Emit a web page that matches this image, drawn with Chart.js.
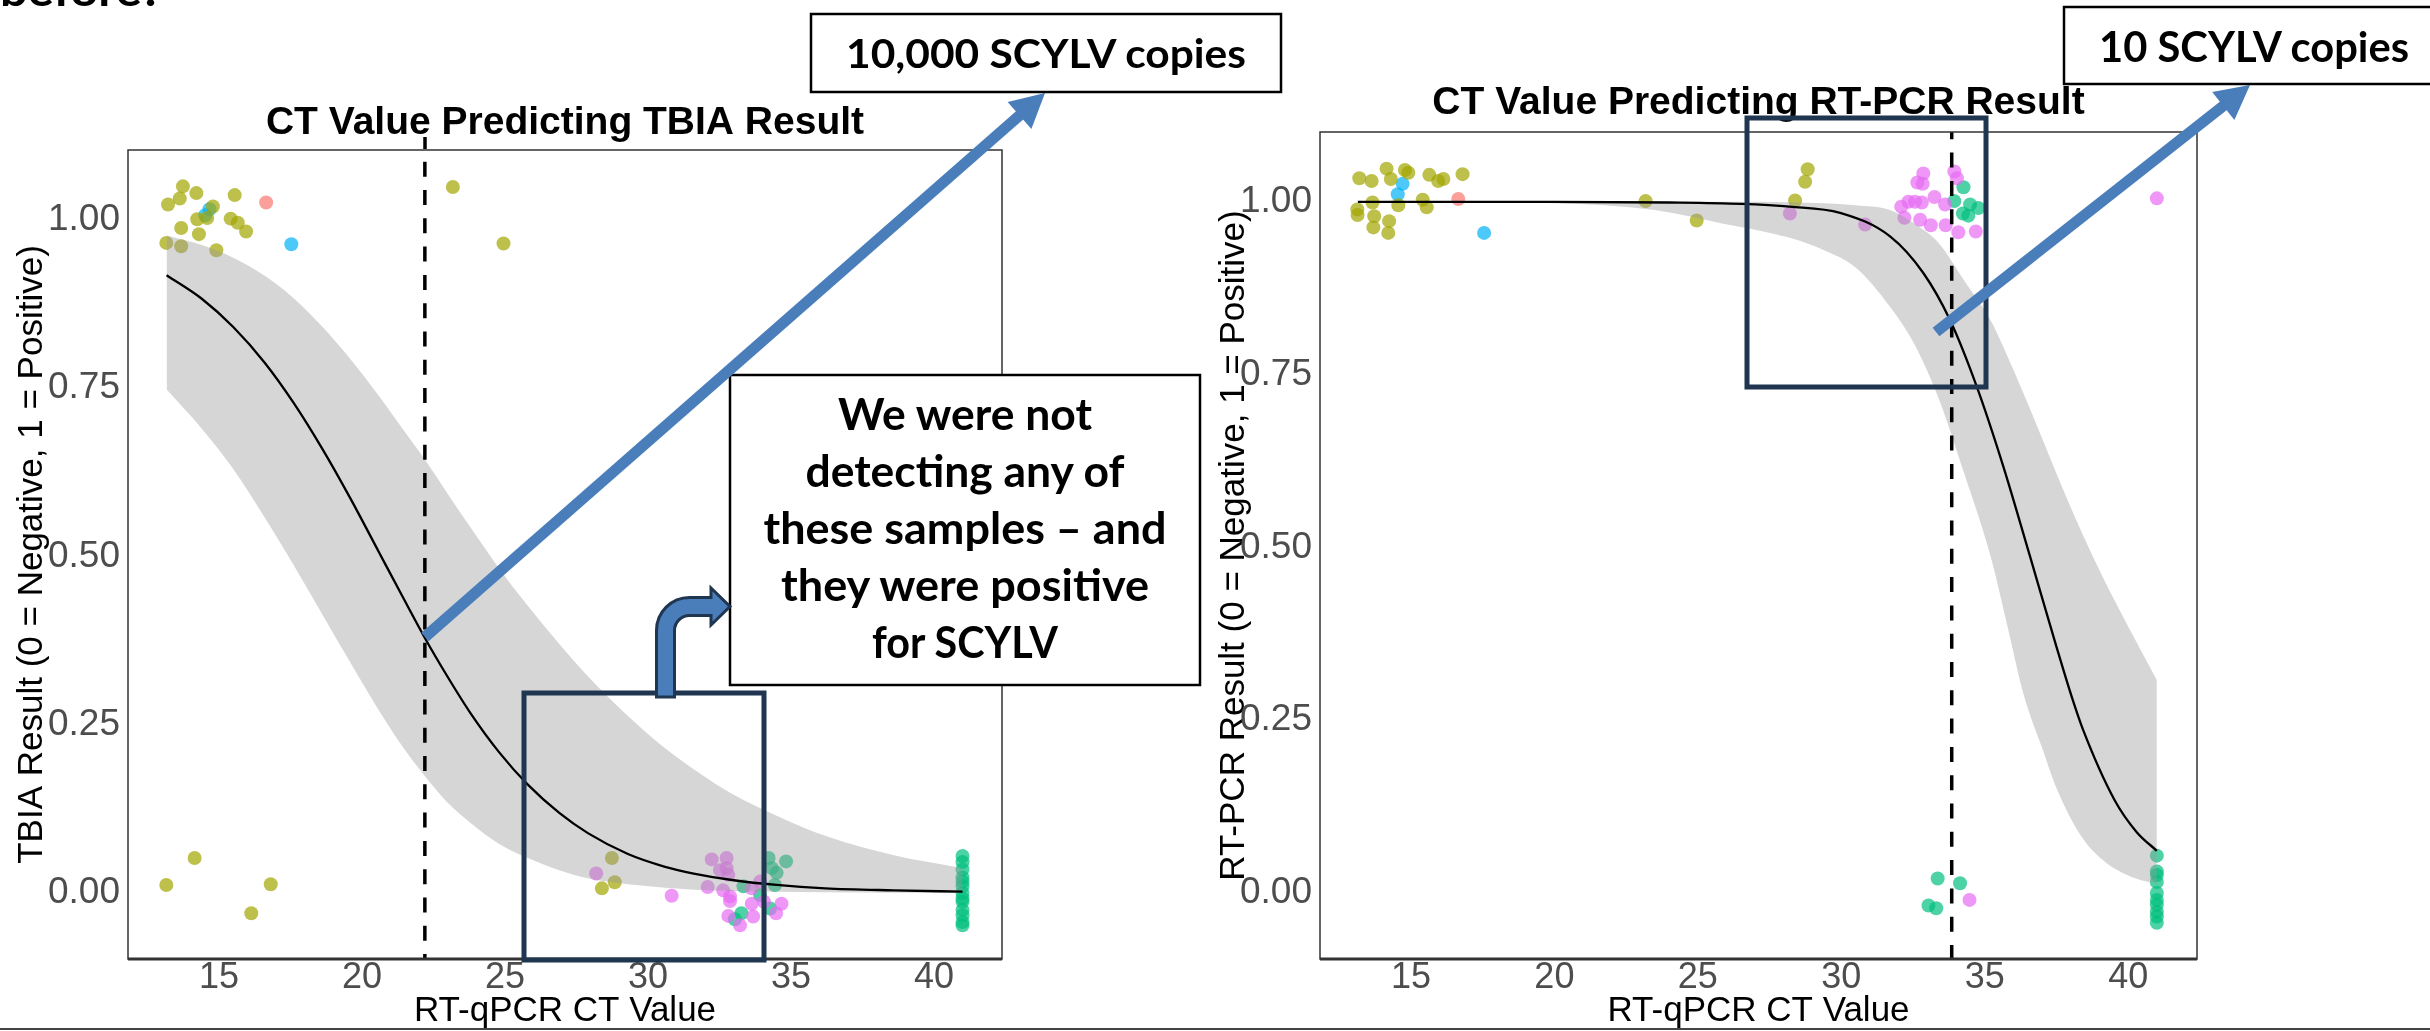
<!DOCTYPE html>
<html>
<head>
<meta charset="utf-8">
<script src="https://cdn.jsdelivr.net/npm/chart.js@4.4.1/dist/chart.umd.min.js"></script>
<style>
  html, body { margin:0; padding:0; background:#fff; }
  #page { position:relative; width:2430px; height:1031px; overflow:hidden; background:#fff; }
  .panel { position:absolute; top:0; width:1215px; height:1031px; }
  #ann { position:absolute; left:0; top:0; pointer-events:none; }
</style>
</head>
<body>
<div id="page">
  <div class="panel" style="left:0"><canvas id="tbia" width="1215" height="1031"></canvas></div>
  <div class="panel" style="left:1215px"><canvas id="pcr" width="1215" height="1031"></canvas></div>
  <svg id="ann" width="2430" height="1031" viewBox="0 0 2430 1031" xmlns="http://www.w3.org/2000/svg">
    <text x="0" y="6" font-family="Lato" font-weight="700" font-size="44" textLength="163" lengthAdjust="spacingAndGlyphs">before?</text>
    <line x1="0" y1="1029" x2="2430" y2="1029" stroke="#444" stroke-width="2"/>
    <line x1="425" y1="137" x2="425" y2="149" stroke="#000" stroke-width="3.5"/>

    <rect x="730" y="375" width="470" height="310" fill="#fff" stroke="#000" stroke-width="2.5"/>
    <g font-family="Lato" font-weight="700" font-size="43" text-anchor="middle" fill="#000">
      <text x="965" y="430" textLength="254" lengthAdjust="spacingAndGlyphs">We were not</text>
      <text x="965" y="487" textLength="319" lengthAdjust="spacingAndGlyphs">detecting any of</text>
      <text x="965" y="544" textLength="403" lengthAdjust="spacingAndGlyphs">these samples – and</text>
      <text x="965" y="601" textLength="368" lengthAdjust="spacingAndGlyphs">they were positive</text>
      <text x="965" y="658" textLength="186" lengthAdjust="spacingAndGlyphs">for SCYLV</text>
    </g>

    <rect x="524" y="693" width="240" height="267" fill="none" stroke="#1f3550" stroke-width="5"/>
    <rect x="1747" y="118" width="239" height="269" fill="none" stroke="#1f3550" stroke-width="5"/>

    <path d="M 656.5 697 L 656.5 630.5 A 33 33 0 0 1 689.5 597.5 L 711 597.5 L 711 588 L 730 606.5 L 711 625 L 711 615.5 L 689.5 615.5 A 15 15 0 0 0 674.5 630.5 L 674.5 697 Z"
          fill="#4a7ebb" stroke="#1f3550" stroke-width="3" stroke-linejoin="miter"/>

    <line x1="425" y1="637" x2="1024" y2="111.5" stroke="#4a7ebb" stroke-width="11"/>
    <polygon points="1045,93 1031.4,128.9 1007.6,101.9" fill="#4a7ebb"/>
    <line x1="1936" y1="332" x2="2227" y2="103" stroke="#4a7ebb" stroke-width="11"/>
    <polygon points="2250,85 2234.4,120.1 2212.2,91.9" fill="#4a7ebb"/>

    <rect x="811" y="14" width="470" height="78" fill="#fff" stroke="#000" stroke-width="2.5"/>
    <text x="1046" y="68" font-family="Lato" font-weight="700" font-size="40" text-anchor="middle" textLength="400" lengthAdjust="spacingAndGlyphs">10,000 SCYLV copies</text>
    <rect x="2064" y="7" width="372" height="77" fill="#fff" stroke="#000" stroke-width="2.5"/>
    <text x="2254" y="62" font-family="Lato" font-weight="700" font-size="42" text-anchor="middle" textLength="310" lengthAdjust="spacingAndGlyphs">10 SCYLV copies</text>
  </svg>
</div>
<script>
// ---------- DATA ----------
const xTicks = [15, 20, 25, 30, 35, 40];
const yTicks = [0, 0.25, 0.5, 0.75, 1];
const cutoffs = [22.2, 33.85];   // TBIA, RT-PCR

// TBIA panel: [CT, jittered result]
const tbiaSalmon = [[16.65, 1.026]];
const tbiaOlive = [
  [13.74,1.050],[14.21,1.040],[13.63,1.032],[13.22,1.023],[15.55,1.037],[14.79,1.020],
  [14.59,1.003],[14.24,1.001],[15.41,1.002],[15.66,0.996],[15.95,0.983],[13.68,0.988],
  [14.30,0.979],[13.16,0.966],[13.68,0.961],[14.91,0.955],[23.18,1.049],[24.95,0.965],
  [14.15,0.052],[13.16,0.012],[16.81,0.013],[16.13,-0.030],[28.74,0.052],[28.84,0.016],[28.39,0.007]
];
const tbiaCyan = [[14.67,1.016],[14.52,1.007],[17.53,0.964]];
const tbiaPink = [
  [28.19,0.029],[30.83,-0.004],[32.23,0.050],[32.75,0.052],[32.52,0.034],[32.75,0.037],
  [32.81,0.027],[32.09,0.009],[32.63,0.004],[32.87,-0.005],[32.87,-0.012],[33.63,0.007],
  [33.63,-0.016],[32.81,-0.034],[33.22,-0.048],[33.68,-0.035],[33.92,0.017],[34.67,-0.016],
  [34.48,-0.030],[34.06,-0.013]
];
const tbiaGreen = [
  [33.34,0.010],[33.92,-0.003],[33.27,-0.030],[33.04,-0.039],[34.22,0.052],[34.33,0.037],
  [34.50,0.030],[34.83,0.047],[34.44,0.012],[34.27,-0.023],
  [41.0,0.055],[41.0,0.046],[41.0,0.035],[41.0,0.023],[41.0,0.017],[41.0,0.010],[41.0,0.000],
  [41.0,-0.008],[41.0,-0.013],[41.0,-0.025],[41.0,-0.033],[41.0,-0.043],[41.0,-0.048]
];
const tbiaCt        = [13.17,14.4,15.5,16.6,17.6,18.6,19.6,20.6,21.4,22.2,23.0,23.8,24.8,25.8,26.9,27.9,29.3,30.6,31.6,33.0,34.5,36.2,38.6,41.0];
const tbiaFitProb   = [0.918,0.883,0.841,0.788,0.729,0.661,0.586,0.506,0.442,0.379,0.321,0.267,0.209,0.161,0.119,0.089,0.058,0.039,0.029,0.019,0.012,0.007,0.004,0.002];
const tbiaBandUpper = [0.977,0.963,0.944,0.917,0.884,0.842,0.793,0.738,0.691,0.644,0.593,0.543,0.482,0.427,0.370,0.322,0.263,0.215,0.184,0.146,0.115,0.085,0.056,0.037];
const tbiaBandLower = [0.748,0.690,0.630,0.558,0.488,0.415,0.342,0.271,0.219,0.174,0.134,0.104,0.073,0.052,0.034,0.022,0.013,0.008,0.005,0.003,0.002,0.001,0.0005,0.0003];

// RT-PCR panel
const pcrSalmon = [[16.65,1.004]];
const pcrOlive = [
  [13.20,1.034],[13.63,1.030],[14.15,1.048],[14.30,1.033],[14.79,1.046],[14.91,1.042],
  [15.64,1.039],[15.95,1.030],[16.13,1.033],[16.80,1.040],[13.66,0.999],[14.56,0.995],
  [15.41,1.003],[15.55,0.992],[13.13,0.989],[13.14,0.981],[13.72,0.979],[14.24,0.972],
  [13.69,0.963],[14.21,0.955],[23.18,1.001],[24.96,0.973],[28.39,1.002],[28.83,1.047],[28.74,1.029]
];
const pcrCyan = [[14.71,1.026],[14.54,1.011],[17.55,0.955]];
const pcrPink = [
  [28.21,0.983],[30.83,0.967],[32.86,1.041],[32.65,1.028],[32.84,1.026],[33.94,1.044],
  [34.03,1.034],[33.25,1.007],[32.34,1.000],[32.57,1.000],[32.81,0.999],[32.09,0.993],
  [33.62,0.996],[32.20,0.977],[32.75,0.974],[33.12,0.966],[33.64,0.966],[34.08,0.956],
  [34.69,0.957],[41.0,1.005],[34.47,-0.010]
];
const pcrGreen = [
  [34.26,1.021],[33.94,1.001],[34.49,0.996],[34.78,0.991],[34.24,0.983],[34.43,0.980],
  [33.36,0.021],[34.14,0.014],[33.04,-0.018],[33.31,-0.022],
  [41.0,0.054],[41.0,0.031],[41.0,0.026],[41.0,0.016],[41.0,0.000],[41.0,-0.010],
  [41.0,-0.017],[41.0,-0.027],[41.0,-0.034],[41.0,-0.043]
];
const pcrFitCt   = [13.15,20,24,26.5,28.2,29.96,31.7,32.86,33.79,34.72,35.65,36.58,37.51,38.04,38.43,39.52,40.3,41.0];
const pcrFitProb = [1.0,1.0,0.999,0.997,0.993,0.984,0.950,0.897,0.829,0.733,0.617,0.487,0.355,0.283,0.236,0.135,0.088,0.061];
const pcrBandCt    = [13.15,17,20,23.5,25.8,28.2,29.4,30.5,31.7,32.6,33.4,34.3,35.2,35.8,36.35,37.0,37.5,38.4,39.2,40.2,41.0];
const pcrBandUpper = [1.0,1.0,1.0,1.0,1.0,0.9995,0.998,0.995,0.988,0.967,0.940,0.885,0.829,0.776,0.723,0.658,0.607,0.520,0.450,0.370,0.308];
const pcrBandLower = [0.9995,0.999,0.998,0.988,0.969,0.948,0.930,0.905,0.848,0.790,0.715,0.605,0.488,0.385,0.288,0.210,0.152,0.080,0.045,0.022,0.013];

// ---------- STYLE / BUILD ----------
Chart.defaults.font.family = '"Liberation Sans", Arial, Helvetica, sans-serif';
const COLORS = {
  salmon: 'rgba(248,118,109,0.7)', olive: 'rgba(163,165,0,0.7)', green: 'rgba(0,191,125,0.7)',
  cyan: 'rgba(0,176,246,0.7)', pink: 'rgba(231,107,243,0.7)'
};
const pts = arr => arr.map(([x, y]) => ({x, y}));
const zip = (xs, ys) => xs.map((x, i) => ({x, y: ys[i]}));

const panelBorder = {
  id: 'panelBorder',
  afterDatasetsDraw(chart) {
    const {ctx, chartArea: a} = chart;
    ctx.save();
    ctx.strokeStyle = '#333';
    ctx.lineWidth = 1.5;
    ctx.strokeRect(a.left, a.top, a.right - a.left, a.bottom - a.top);
    ctx.lineWidth = 3;
    ctx.beginPath(); ctx.moveTo(a.left, a.bottom); ctx.lineTo(a.right, a.bottom); ctx.stroke();
    ctx.restore();
  }
};

function build(id, cfg) {
  const datasets = [
    {type:'line', data:[{x:cfg.cut, y:cfg.ymax}, {x:cfg.cut, y:cfg.ymin}], borderColor:'#000',
     borderWidth:3.5, borderDash:[15,13.3], borderDashOffset: cfg.dashOffset, pointRadius:0, order:1},
    {type:'line', data: zip(cfg.fitX, cfg.fitY), borderColor:'#000', borderWidth:2.3,
     pointRadius:0, cubicInterpolationMode:'monotone', order:2},
    {type:'line', data: zip(cfg.bandX, cfg.bandU), borderColor:'rgba(0,0,0,0)', borderWidth:0,
     backgroundColor:'rgba(153,153,153,0.4)', fill:'+1', pointRadius:0, cubicInterpolationMode:'monotone', order:3},
    {type:'line', data: zip(cfg.bandX, cfg.bandL), borderColor:'rgba(0,0,0,0)', borderWidth:0,
     fill:false, pointRadius:0, cubicInterpolationMode:'monotone', order:3}
  ];
  cfg.groups.forEach(([arr, col]) => datasets.push({
    type:'scatter', data: pts(arr), backgroundColor: COLORS[col], borderWidth:0, pointRadius:7, order:4
  }));
  return new Chart(document.getElementById(id), {
    type: 'scatter',
    data: { datasets },
    options: {
      responsive:false, animation:false, events:[], devicePixelRatio:1,
      layout: { padding: { left:0, top:0, bottom:0, right: cfg.padR } },
      plugins: {
        legend: {display:false}, tooltip: {enabled:false},
        title: { display:true, text: cfg.title, fullSize:false, color:'#000',
                 font:{size:39, weight:'bold', lineHeight:1.2},
                 padding:{top: cfg.titleTop, bottom: cfg.titleBottom} }
      },
      scales: {
        x: {
          type:'linear', min: cfg.xmin, max: cfg.xmax,
          afterBuildTicks: s => { s.ticks = xTicks.map(v => ({value:v})); },
          afterFit: s => { s.height = 72; },
          grid: {display:false, drawTicks:false}, border:{display:false},
          ticks: {color:'#4d4d4d', font:{size:36, lineHeight:1}, padding:1, autoSkip:false, maxRotation:0,
                  callback: v => String(v)},
          title: {display:true, text:'RT-qPCR CT Value', color:'#000', font:{size:35, lineHeight:1},
                  padding:{top:0, bottom:2.5}}
        },
        y: {
          type:'linear', min: cfg.ymin, max: cfg.ymax,
          afterBuildTicks: s => { s.ticks = yTicks.map(v => ({value:v})); },
          afterFit: s => { s.width = cfg.yW; },
          grid: {display:false, drawTicks:false}, border:{display:false},
          ticks: {color:'#4d4d4d', font:{size:37, lineHeight:1}, padding:8, autoSkip:false,
                  callback: v => Number(v).toFixed(2)},
          title: {display:true, text: cfg.ytitle, color:'#000', font:{size:35, lineHeight:1},
                  padding:{top: cfg.ytitlePad, bottom:0}}
        }
      }
    },
    plugins: [panelBorder]
  });
}

build('tbia', {
  title:'CT Value Predicting TBIA Result', ytitle:'TBIA Result (0 = Negative, 1 = Positive)',
  cut: cutoffs[0], xmin:11.82, xmax:42.38, ymin:-0.098, ymax:1.104, dashOffset:16.6,
  padR:213, yW:128, titleTop:99.6, titleBottom:3.6, ytitlePad:14.5,
  fitX: tbiaCt, fitY: tbiaFitProb, bandX: tbiaCt, bandU: tbiaBandUpper, bandL: tbiaBandLower,
  groups: [[tbiaOlive,'olive'],[tbiaSalmon,'salmon'],[tbiaCyan,'cyan'],[tbiaPink,'pink'],[tbiaGreen,'green']]
});
build('pcr', {
  title:'CT Value Predicting RT-PCR Result', ytitle:'RT-PCR Result (0 = Negative, 1 = Positive)',
  cut: cutoffs[1], xmin:11.83, xmax:42.4, ymin:-0.0955, ymax:1.101, dashOffset:7.7,
  padR:233, yW:105, titleTop:80.1, titleBottom:5.1, ytitlePad:2,
  fitX: pcrFitCt, fitY: pcrFitProb, bandX: pcrBandCt, bandU: pcrBandUpper, bandL: pcrBandLower,
  groups: [[pcrOlive,'olive'],[pcrSalmon,'salmon'],[pcrCyan,'cyan'],[pcrPink,'pink'],[pcrGreen,'green']]
});
</script>
</body>
</html>
